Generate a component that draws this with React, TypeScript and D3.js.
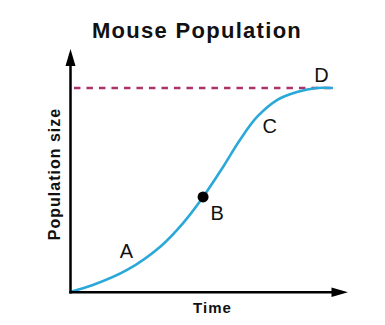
import React from "react";
import * as d3 from "d3";

const time = [0, 0.87, 2.17, 3.42, 4.3, 5.06, 5.82, 6.46, 7.11, 7.87, 8.63, 9.39, 10];
const population = [0, 3.4, 10.8, 22.1, 33.8, 46.6, 61.3, 74.5, 85.8, 94.1, 98, 100, 100];
const carryingCapacity = 100;
const pointLabels = [
  { label: "A", t: 2.2, dx: -1.4, dy: -18.4 },
  { label: "B", t: 5.06, dx: 14, dy: 15.6 },
  { label: "C", t: 6.8, dx: 21, dy: -2 },
  { label: "D", t: 9.45, dx: 3, dy: -13.5 },
];
const markedT = 5.06;

export default function App() {
  const W = 385, H = 325;
  const x = d3.scaleLinear().domain([0, 10]).range([70, 333]);
  const y = d3.scaleLinear().domain([0, 100]).range([292, 88]);
  const data = time.map((t, i) => [t, population[i]] as [number, number]);
  const line = d3.line<[number, number]>().x(d => x(d[0])).y(d => y(d[1])).curve(d3.curveCatmullRom.alpha(0.5));
  const interp = (t: number) => {
    const i = d3.bisectLeft(time, t);
    if (i <= 0) return population[0];
    if (i >= time.length) return population[population.length - 1];
    const t0 = time[i - 1], t1 = time[i];
    return population[i - 1] + (population[i] - population[i - 1]) * (t - t0) / (t1 - t0);
  };
  const font = "Liberation Sans, Arial, sans-serif";
  const labelSize = 20;
  return (
    <svg width={W} height={H} style={{ position: "absolute", left: 0, top: 0 }}>
      <rect width={W} height={H} fill="#fff" />
      <text x={197} y={37.7} textAnchor="middle" fontFamily={font} fontWeight="bold" fontSize={22} letterSpacing={1.3} fill="#111">Mouse Population</text>
      <line x1={x(0.15)} x2={x(10)} y1={y(carryingCapacity)} y2={y(carryingCapacity)} stroke="#ab336a" strokeWidth={2.5} strokeDasharray="6.5,6" />
      <path d={line(data) || ""} fill="none" stroke="#2aa8d8" strokeWidth={2.6} />
      <line x1={70.5} x2={70.5} y1={293.5} y2={64} stroke="#000" strokeWidth={2.5} />
      <path d="M70.5,49 L65.5,66 L75.5,66 Z" fill="#000" />
      <line x1={69.3} x2={334} y1={292.3} y2={292.3} stroke="#000" strokeWidth={2.5} />
      <path d="M348,292.3 L331.5,287.5 L331.5,297 Z" fill="#000" />
      <circle cx={x(markedT)} cy={y(interp(markedT))} r={5.5} fill="#000" />
      {pointLabels.map(p => (
        <text key={p.label} x={x(p.t) + p.dx} y={y(interp(p.t)) + p.dy + labelSize * 0.358} textAnchor="middle" fontFamily={font} fontSize={labelSize} fill="#111">{p.label}</text>
      ))}
      <text x={212.5} y={313} textAnchor="middle" fontFamily={font} fontWeight="bold" fontSize={15} letterSpacing={1.1} fill="#111">Time</text>
      <text transform="translate(60,174) rotate(-90)" textAnchor="middle" fontFamily={font} fontWeight="bold" fontSize={16} letterSpacing={1.0} fill="#111">Population size</text>
    </svg>
  );
}
